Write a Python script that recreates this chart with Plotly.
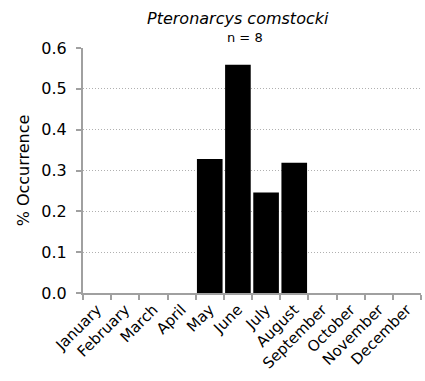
import plotly.graph_objects as go

months = ["January", "February", "March", "April", "May", "June", "July",
          "August", "September", "October", "November", "December"]
occurrence = [0, 0, 0, 0, 0.328, 0.559, 0.246, 0.319, 0, 0, 0, 0]
y_ticks = [0.0, 0.1, 0.2, 0.3, 0.4, 0.5, 0.6]
y_tick_labels = ["0.0", "0.1", "0.2", "0.3", "0.4", "0.5", "0.6"]

font_family = "DejaVu Sans, Verdana, sans-serif"
axis_grey = "#a0a0a0"

L, R, T, B = 82.5, 4, 48, 88
W, H = 425, 381
pw = W - L - R

def px_to_paper_x(px):
    return (px - L) / pw

fig = go.Figure(go.Bar(
    x=months, y=occurrence,
    marker=dict(color="black", line=dict(width=0)),
    hoverinfo="skip",
))

fig.update_layout(
    width=W, height=H,
    margin=dict(l=L, r=R, t=T, b=B, autoexpand=False),
    paper_bgcolor="white", plot_bgcolor="white",
    bargap=0.09,
    showlegend=False,
    font=dict(family=font_family, color="black"),
    annotations=[
        dict(text="<i>Pteronarcys comstocki</i>", x=px_to_paper_x(238), y=1.0,
             xref="paper", yref="paper", yshift=30, showarrow=False,
             font=dict(size=16, family=font_family, color="black"),
             xanchor="center", yanchor="middle"),
        dict(text="n = 8", x=px_to_paper_x(245), y=1.0,
             xref="paper", yref="paper", yshift=11, showarrow=False,
             font=dict(size=13, family=font_family, color="black"),
             xanchor="center", yanchor="middle"),
    ],
)

fig.update_xaxes(
    type="category", tickangle=-45, automargin=False,
    tickfont=dict(size=15, family=font_family, color="black"),
    showline=True, linecolor=axis_grey, linewidth=2,
    ticks="outside", ticklen=5, tickcolor=axis_grey, tickwidth=2,
    tickson="boundaries", showgrid=False,
)

fig.update_yaxes(
    range=[0, 0.6], tickvals=y_ticks, ticktext=y_tick_labels, automargin=False,
    tickfont=dict(size=16, family=font_family, color="black"),
    ticklabelstandoff=6,
    title=dict(text="% Occurrence", font=dict(size=16, family=font_family, color="black"),
               standoff=8),
    showline=True, linecolor=axis_grey, linewidth=2,
    ticks="outside", ticklen=5, tickcolor=axis_grey, tickwidth=2,
    showgrid=True, gridcolor="#b0b0b0", griddash="1px,2px", gridwidth=1,
    zeroline=False,
)

fig.write_html(
    "out.html",
    config={"displayModeBar": False},
    post_script="document.body.style.margin='0';document.body.style.overflow='hidden';",
)
